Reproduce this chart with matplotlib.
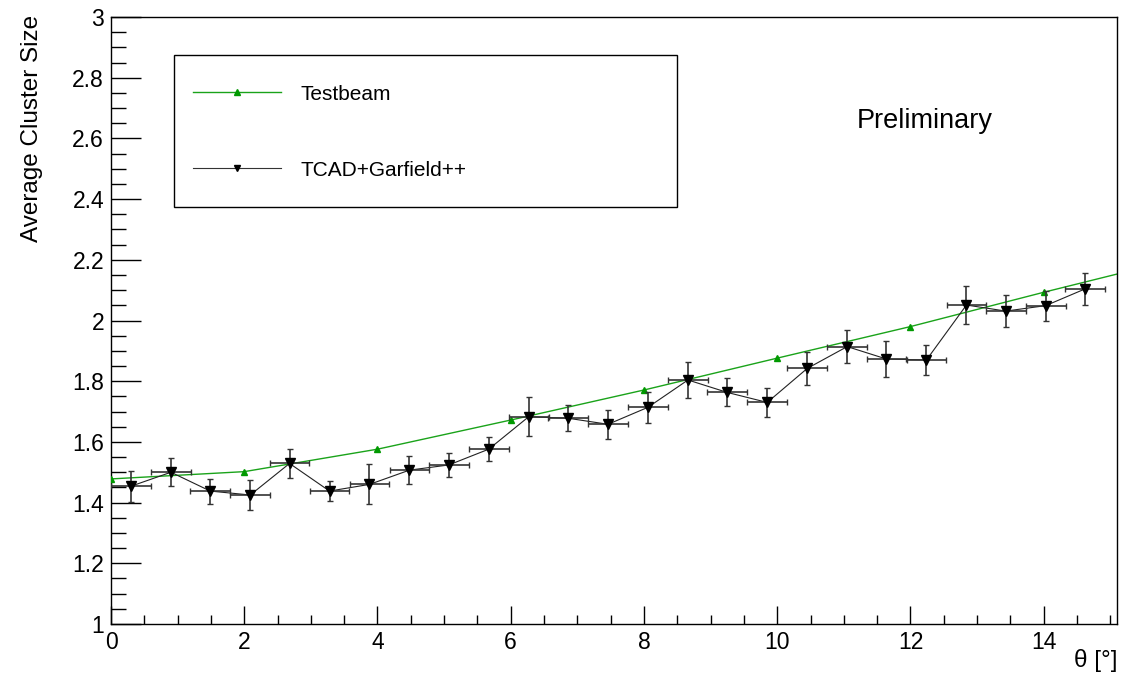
import matplotlib
matplotlib.use("Agg")
import matplotlib.pyplot as plt
from matplotlib.patches import Rectangle
from matplotlib.ticker import MultipleLocator, FormatStrFormatter

plt.rcParams['font.family'] = ['Liberation Sans', 'DejaVu Sans']

# testbeam measurement (points) and the curve drawn through them
theta_tb = [0, 2, 4, 6, 8, 10, 12, 14]
size_tb = [1.478, 1.502, 1.576, 1.672, 1.771, 1.876, 1.980, 2.093]
theta_curve = [0, 2, 4, 6, 8, 10, 12, 14, 15.1]
size_curve = [1.478, 1.502, 1.576, 1.672, 1.771, 1.876, 1.980, 2.093, 2.153]

# TCAD + Garfield++ simulation
theta_sim = [0.30, 0.90, 1.49, 2.09, 2.68, 3.28, 3.88, 4.48, 5.07, 5.67,
             6.27, 6.86, 7.46, 8.06, 8.66, 9.25, 9.85, 10.45, 11.05, 11.64,
             12.24, 12.84, 13.43, 14.03, 14.62]
size_sim = [1.454, 1.500, 1.438, 1.425, 1.529, 1.438, 1.460, 1.507, 1.524, 1.576,
            1.683, 1.678, 1.658, 1.714, 1.804, 1.763, 1.730, 1.842, 1.914, 1.873,
            1.870, 2.051, 2.031, 2.049, 2.104]
err_sim = [0.051, 0.046, 0.041, 0.050, 0.047, 0.034, 0.066, 0.047, 0.041, 0.040,
           0.064, 0.042, 0.048, 0.051, 0.060, 0.046, 0.049, 0.055, 0.054, 0.060,
           0.049, 0.062, 0.053, 0.049, 0.054]
xerr_sim = 0.298

W, H = 1136, 677
fig = plt.figure(figsize=(W / 100, H / 100), dpi=100)
ax = fig.add_axes([111 / W, 53 / H, 1006 / W, 607 / H])

green = '#1aa31a'
ax.plot(theta_curve, size_curve, color=green, lw=1.0, zorder=2)
ax.plot(theta_tb, size_tb, ls='none', marker='^', ms=5, color='#009900', zorder=3)
tb_handle, = ax.plot([], [], color=green, lw=1.0, marker='^', ms=5,
                     mfc='#009900', mec='#009900')

ax.plot(theta_sim, size_sim, color='#222222', lw=0.8, zorder=4)
ax.errorbar(theta_sim, size_sim, yerr=err_sim, xerr=xerr_sim, fmt='none',
            ecolor='#333333', elinewidth=1.2, capsize=2.5, capthick=1.0, zorder=4)
ax.plot(theta_sim, size_sim, ls='none', marker='v', ms=7, color='black', zorder=5)
sim_handle, = ax.plot([], [], color='#333333', lw=0.8, marker='v', ms=5,
                      mfc='black', mec='black')

ax.set_xlim(0, 15.1)
ax.set_ylim(1, 3)

ax.xaxis.set_major_locator(MultipleLocator(2))
ax.xaxis.set_minor_locator(MultipleLocator(0.5))
ax.yaxis.set_major_locator(MultipleLocator(0.2))
ax.yaxis.set_minor_locator(MultipleLocator(0.05))
ax.yaxis.set_major_formatter(FormatStrFormatter('%g'))

ax.tick_params(axis='both', which='both', direction='in', top=False, right=False,
               width=1, labelsize=16.5, color='black')
ax.tick_params(axis='y', which='major', length=21.6, pad=5)
ax.tick_params(axis='y', which='minor', length=10.8)
ax.tick_params(axis='x', which='major', length=13, pad=5)
ax.tick_params(axis='x', which='minor', length=6.5)
for sp in ax.spines.values():
    sp.set_linewidth(1)

fig.text(32 / W, 1 - 15 / H, 'Average Cluster Size', rotation=90,
         ha='center', va='top', fontsize=17.5)
fig.text(1117 / W, 1 - 661 / H, 'θ [°]', ha='right', va='center', fontsize=17.5)
ax.text(0.809, 0.828, 'Preliminary', transform=ax.transAxes,
        ha='center', va='center', fontsize=19.5)

# legend box drawn as a plain rectangle, entries placed inside it
ax.add_patch(Rectangle(((174 - 111) / 1006, (624 - 207) / 607),
                       (677 - 174) / 1006, (207 - 55) / 607,
                       transform=ax.transAxes, fill=True, facecolor='white',
                       edgecolor='black', lw=1, zorder=6))
leg = ax.legend([tb_handle, sim_handle], ['Testbeam', 'TCAD+Garfield++'],
                loc='upper left',
                bbox_to_anchor=((193 - 111) / 1006, (624 - 84.5) / 607),
                fontsize=15, frameon=False, borderaxespad=0, borderpad=0,
                labelspacing=2.74, handlelength=4.23, handletextpad=0.91)
leg.set_zorder(7)

fig.savefig('out.png', dpi=100)
